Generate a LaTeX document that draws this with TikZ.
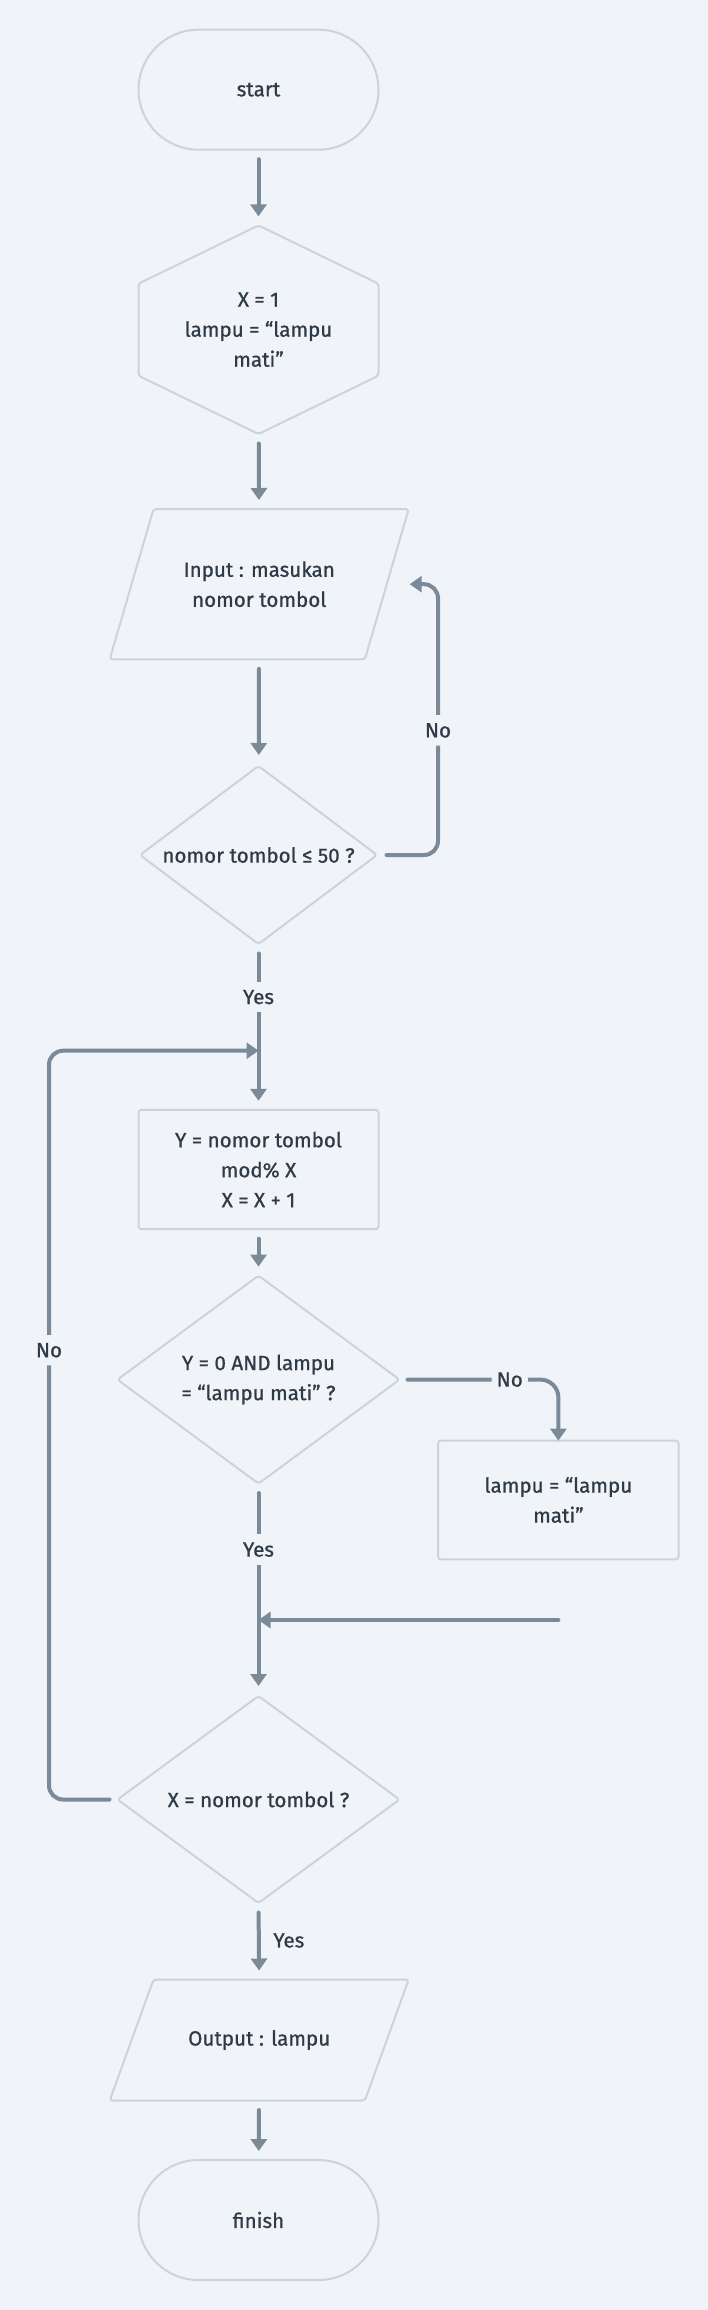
\documentclass[tikz,border=0pt]{standalone}
\usepackage{fontspec}
\setmainfont{Fira Sans}[FakeBold=0.8]
\usetikzlibrary{arrows.meta,calc}
\definecolor{bg}{HTML}{F0F4F8}
\definecolor{edge}{HTML}{CBD4DC}
\definecolor{arrowc}{HTML}{7A8A99}
\definecolor{txt}{HTML}{2F3A47}
\begin{document}
\begin{tikzpicture}[x=1pt,y=-1pt,
  box/.style={rectangle, inner sep=0pt, outer sep=0pt, text=txt, align=center,
    font=\fontsize{20.6}{30}\selectfont},
  framed/.style={draw=edge, line width=2pt, rounded corners=3pt},
  terminal/.style={box, draw=edge, line width=2pt, minimum width=240pt,
    minimum height=120pt, rounded corners=60pt},
  outline/.style={draw=edge, line width=2pt, line join=round, rounded corners=3pt},
  arr/.style={draw=arrowc, line width=4pt, line cap=round,
    -{Triangle[width=16pt,length=12pt]}, shorten <=9.5pt, shorten >=9pt},
  turn/.style={arr, rounded corners=14pt},
  lbl/.style={fill=bg, text=txt, inner xsep=5pt, inner ysep=8pt,
    font=\fontsize{20.6}{24}\selectfont},
  lblside/.style={text=txt, anchor=west, inner sep=0pt, xshift=12.5pt,
    font=\fontsize{20.6}{24}\selectfont}]
\fill[bg] (0,0) rectangle (708,2310);
\useasboundingbox (0,0) rectangle (708,2310);

% nodes
\node[terminal] (start) at (258.5,89.7) {start};
\node[box, minimum width=240pt, minimum height=208.6pt] (hex) at (258.5,329.7)
  {X = 1\\lampu = “lampu\\mati”};
\node[box, minimum width=299pt, minimum height=150.4pt] (inp) at (259.2,584.2)
  {Input : masukan\\nomor tombol};
\node[box, minimum width=237pt, minimum height=178pt] (d1) at (258.5,855)
  {nomor tombol ≤ 50 ?};
\node[box, framed, minimum width=240pt, minimum height=119.4pt] (proc) at (258.5,1169.5)
  {Y = nomor tombol\\mod\% X\\X = X + 1};
\node[box, minimum width=282pt, minimum height=208pt] (d2) at (258.5,1379.6)
  {Y = 0 AND lampu\\= “lampu mati” ?};
\node[box, framed, minimum width=240.6pt, minimum height=118.8pt] (lampu) at (558.4,1500)
  {lampu = “lampu\\mati”};
\node[box, minimum width=282pt, minimum height=207pt] (d3) at (258.5,1799.5)
  {X = nomor tombol ?};
\node[box, minimum width=299pt, minimum height=121pt] (out) at (259.2,2040)
  {Output : lampu};
\node[terminal] (finish) at (258.5,2220) {finish};

% shape outlines
\draw[outline] (hex.north) -- ($(hex.east)+(0,-46)$) -- ($(hex.east)+(0,46)$)
  -- (hex.south) -- ($(hex.west)+(0,46)$) -- ($(hex.west)+(0,-46)$) -- cycle;
\draw[outline] ($(inp.north west)+(43.8,0)$) -- (inp.north east)
  -- ($(inp.south east)+(-43.8,0)$) -- (inp.south west) -- cycle;
\draw[outline] ($(out.north west)+(43.8,0)$) -- (out.north east)
  -- ($(out.south east)+(-43.8,0)$) -- (out.south west) -- cycle;
\foreach \d in {d1,d2,d3}
  \draw[outline] (\d.north) -- (\d.east) -- (\d.south) -- (\d.west) -- cycle;

% junction points
\coordinate (j1) at (258.5,1050.7);
\coordinate (j2) at (258.5,1620);
\coordinate (m1) at (558.4,1620);

% connectors
\draw[arr] (start) -- (hex);
\draw[arr] (hex) -- (inp);
\draw[arr, shorten >=11pt] (inp) -- (d1);
\draw[turn, shorten >=1pt] (d1.east) -- ++(61,0) |- node[lbl, pos=0.23] {No} (inp.east);
\draw[arr] (d1.south) -- node[lbl, pos=0.32] {Yes} (proc.north);
\draw[turn, shorten <=8pt, shorten >=0pt] (d3.west) -- ++(-68.5,0) |- node[lbl, pos=0.3] {No} (j1);
\draw[arr] (proc) -- (d2);
\draw[arr, rounded corners=18pt, shorten <=8pt, shorten >=0pt] (d2.east) -| node[lbl, pos=0.347] {No} (lampu.north);
\draw[arr, shorten >=10pt] (d2.south) -- node[lbl, pos=0.311] {Yes} (d3.north);
\draw[arr, shorten <=0pt, shorten >=0pt] (m1) -- (j2);
\draw[arr] (d3.south) -- node[lblside, pos=0.49] {Yes} (out.north);
\draw[arr] (out) -- (finish);
\end{tikzpicture}
\end{document}
